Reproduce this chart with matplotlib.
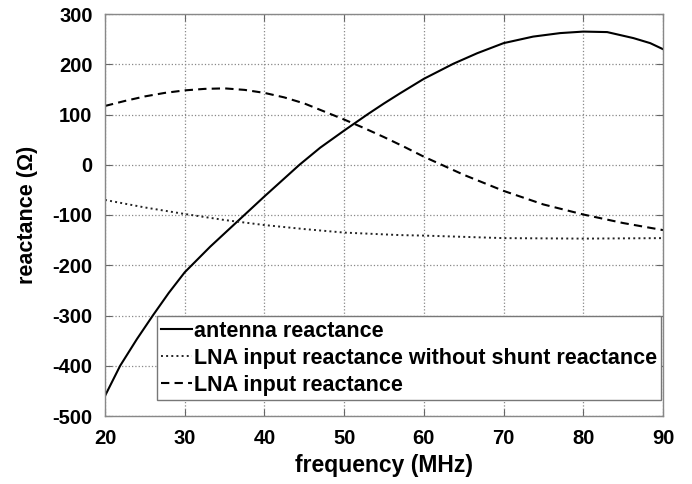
import matplotlib
matplotlib.use("Agg")
import matplotlib.pyplot as plt
from matplotlib.ticker import FuncFormatter

plt.rcParams['font.family'] = ['Liberation Sans', 'DejaVu Sans']

freq_ant = [20, 21.9, 24, 26, 28, 30, 33.2, 36.6, 40, 44.4, 47, 50, 53, 55, 57, 60, 63.7, 66.7, 70, 73.7, 77.1, 80, 83, 86.3, 88.4, 90]
ant = [-460, -400, -347, -300, -255, -214, -163, -113, -63, 0, 34, 68, 101, 122, 142, 171, 201, 222, 242, 255, 262, 265, 264, 252, 242, 230]

freq_lna = [20, 22.5, 25, 27.5, 30, 32.5, 35, 37.5, 40, 42.5, 45, 47.5, 50, 52.5, 55, 57.5, 60, 65, 70, 75, 80, 85, 90]
lna = [117, 127, 136, 143, 148, 151, 152, 149, 143, 134, 122, 106, 90, 73, 55, 36, 16, -20, -52, -79, -99, -116, -130]

freq_dot = [20, 25, 30, 35, 40, 45, 50, 57, 60, 70, 80, 90]
lna_noshunt = [-70, -85, -98, -110, -120, -128, -135, -140, -141, -146, -147, -146]

xticks = [20, 30, 40, 50, 60, 70, 80, 90]
yticks = [-500, -400, -300, -200, -100, 0, 100, 200, 300]

fig = plt.figure(figsize=(6.92, 4.84), dpi=100)
ax = fig.add_axes([105/692, 1-416/484, (663-105)/692, (416-14)/484])

ax.plot(freq_ant, ant, '-', color='black', lw=1.5, label='antenna reactance')
ax.plot(freq_dot, lna_noshunt, ':', color='#222222', lw=1.4, label='LNA input reactance without shunt reactance')
ax.plot(freq_lna, lna, '--', color='black', lw=1.5, dashes=(4, 2.5), label='LNA input reactance')

ax.set_xlim(20, 90)
ax.set_ylim(-500, 300)
ax.set_xticks(xticks)
ax.set_yticks(yticks)
ax.yaxis.set_major_formatter(FuncFormatter(lambda v, p: f"{int(round(v))}"))
ax.grid(True, linestyle=':', color='#888888', lw=0.9)
ax.tick_params(direction='in', length=5, color='#666666', labelsize=14.5, pad=9, top=True, right=True,
               labeltop=False, labelright=False)
for lab in ax.get_xticklabels() + ax.get_yticklabels():
    lab.set_fontweight('bold')
for s in ax.spines.values():
    s.set_color('#888888')
    s.set_linewidth(1.0)

ax.set_xlabel('frequency (MHz)', fontsize=16.5, fontweight='bold', labelpad=5)
ax.set_ylabel('reactance (Ω)', fontsize=15.5, fontweight='bold', labelpad=10)

leg = ax.legend(loc='lower right', bbox_to_anchor=((661-105)/558, (416-400)/402), prop={'size': 15.5, 'weight': 'bold'},
                frameon=True, fancybox=False, framealpha=1, edgecolor='#777777',
                handlelength=1.45, handletextpad=0.05, borderpad=0.2, labelspacing=0.28, borderaxespad=0.0)
leg.get_frame().set_linewidth(1.0)

fig.savefig('out.png', dpi=100)
